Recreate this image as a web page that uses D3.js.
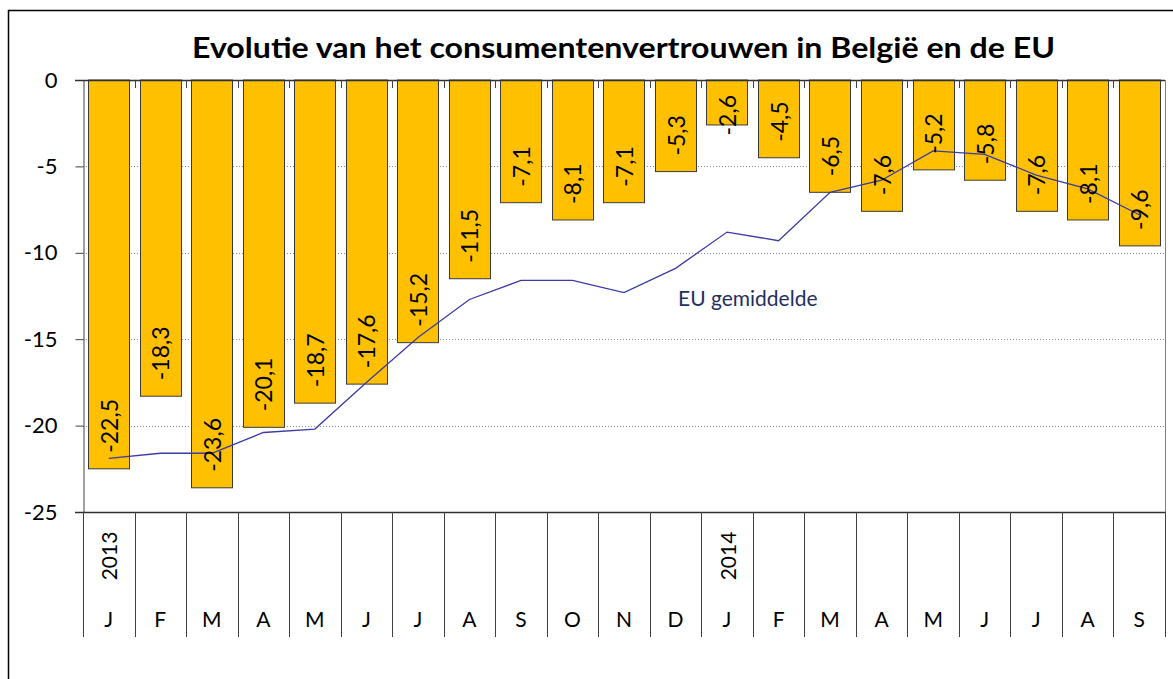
<!DOCTYPE html>
<html>
<head>
<meta charset="utf-8">
<script src="https://cdn.jsdelivr.net/npm/d3@7"></script>
<style>
  body { margin: 0; background: #fff; }
  text { font-family: Lato, "Open Sans", sans-serif; fill: #000; }
  .bar { fill: #FFC000; stroke: #3a3a3a; stroke-width: 1; }
  .grid line { stroke: #8c8c8c; stroke-dasharray: 1,2; }
  .eu { fill: none; stroke: #3b3ba6; stroke-width: 1.3; }
</style>
</head>
<body>
<div id="chart"></div>
<script>
// consumentenvertrouwen Belgie (bars) vs EU gemiddelde (line), jan 2013 - sep 2014
var months = ["J","F","M","A","M","J","J","A","S","O","N","D","J","F","M","A","M","J","J","A","S"];
var years = [{i: 0, label: "2013"}, {i: 12, label: "2014"}];
var belgie = [-22.5, -18.3, -23.6, -20.1, -18.7, -17.6, -15.2, -11.5, -7.1, -8.1, -7.1, -5.3,
              -2.6, -4.5, -6.5, -7.6, -5.2, -5.8, -7.6, -8.1, -9.6];
var eu = [-21.9, -21.6, -21.6, -20.4, -20.2, -17.5, -14.9, -12.7, -11.6, -11.6, -12.3, -10.9,
          -8.8, -9.3, -6.5, -5.8, -4.1, -4.3, -5.5, -6.3, -7.8];
var yTicks = [0, -5, -10, -15, -20, -25];

var W = 1173, H = 679;
var plotL = 83, plotR = 1165, plotT = 80, plotB = 512;

// excel style: plain hyphen, decimal comma
function fmt1(d){ return d.toFixed(1).replace(".", ","); }
function fmt0(d){ return String(d); }

var svg = d3.select("#chart").append("svg")
  .attr("width", W).attr("height", H);

// chart border (runs off the right/bottom edge like the original)
svg.append("rect")
  .attr("x", 8.5).attr("y", 10.5).attr("width", 1250).attr("height", 800)
  .attr("fill", "none").attr("stroke", "#000").attr("stroke-width", 1.5);

svg.append("text")
  .attr("x", 192).attr("y", 58)
  .attr("textLength", 863).attr("lengthAdjust", "spacingAndGlyphs")
  .style("font-weight", "bold").style("font-size", "29px")
  .text("Evolutie van het consumentenvertrouwen in België en de EU");

var idx = d3.range(months.length);
var x = d3.scaleBand().domain(idx).range([plotL, plotR]).paddingInner(0.2).paddingOuter(0.1);
var y = d3.scaleLinear().domain([0, -25]).range([plotT, plotB]);
var step = x.step();

// gridlines
svg.append("g").attr("class", "grid").selectAll("line")
  .data(yTicks.filter(function(d){ return d != 0 && d != -25; }))
  .enter().append("line")
  .attr("x1", plotL).attr("x2", plotR)
  .attr("y1", function(d){ return Math.round(y(d)) + 0.5; })
  .attr("y2", function(d){ return Math.round(y(d)) + 0.5; });

// y axis
var yAxis = svg.append("g").attr("transform", "translate(" + (plotL + 0.5) + ",0)")
  .call(d3.axisLeft(y).tickValues(yTicks).tickSize(8).tickPadding(18).tickFormat(fmt0));
yAxis.select(".domain").attr("stroke", "#404040");
yAxis.selectAll(".tick line").attr("stroke", "#404040");
yAxis.selectAll("text").style("font-size", "22px").style("font-family", "Lato, sans-serif").attr("fill", "#000");

// bars
svg.append("g").selectAll("rect")
  .data(belgie)
  .enter().append("rect")
  .attr("class", "bar")
  .attr("x", function(d, i){ return Math.round(x(i)) + 0.5; })
  .attr("y", y(0))
  .attr("width", Math.round(x.bandwidth()))
  .attr("height", function(d){ return y(d) - y(0); });

// EU line
var line = d3.line()
  .x(function(d, i){ return x(i) + x.bandwidth() / 2; })
  .y(function(d){ return y(d); });
svg.append("path").attr("class", "eu").attr("d", line(eu));

svg.append("text")
  .attr("x", 678).attr("y", 306)
  .style("font-size", "21px").style("fill", "#1f3060")
  .text("EU gemiddelde");

// value labels, rotated, inside end of the bars
var labels = svg.append("g").selectAll("text")
  .data(belgie)
  .enter().append("text")
  .style("font-size", "23px")
  .attr("dominant-baseline", "central")
  .text(fmt1);
labels.each(function(d, i){
  var len = this.getComputedTextLength();
  var cx = x(i) + x.bandwidth() / 2;
  var yy = Math.max(y(d) - 16, plotT + 15 + len);
  d3.select(this).attr("transform", "translate(" + cx + "," + yy + ") rotate(-90)");
});

// axis line at 0 and at bottom
svg.append("line").attr("x1", plotL - 8).attr("x2", plotR)
  .attr("y1", plotT + 0.5).attr("y2", plotT + 0.5).attr("stroke", "#303030").attr("stroke-width", 1.5);
svg.append("line").attr("x1", plotL - 8).attr("x2", plotR)
  .attr("y1", plotB + 0.5).attr("y2", plotB + 0.5).attr("stroke", "#303030").attr("stroke-width", 1.5);
svg.append("line").attr("x1", plotR + 0.5).attr("x2", plotR + 0.5)
  .attr("y1", plotT).attr("y2", plotB).attr("stroke", "#808080");

// small category ticks under the 0 line
var bounds = d3.range(months.length + 1).map(function(i){ return plotL + i * step; });
svg.append("g").selectAll("line")
  .data(bounds.slice(1, -1))
  .enter().append("line")
  .attr("x1", function(d){ return Math.round(d) + 0.5; })
  .attr("x2", function(d){ return Math.round(d) + 0.5; })
  .attr("y1", plotT).attr("y2", plotT + 8)
  .attr("stroke", "#404040");

// category separators below the plot
svg.append("g").selectAll("line")
  .data(bounds)
  .enter().append("line")
  .attr("x1", function(d){ return Math.round(d) + 0.5; })
  .attr("x2", function(d){ return Math.round(d) + 0.5; })
  .attr("y1", plotB).attr("y2", 637)
  .attr("stroke", "#404040");

// month labels
svg.append("g").selectAll("text")
  .data(months)
  .enter().append("text")
  .attr("x", function(d, i){ return x(i) + x.bandwidth() / 2; })
  .attr("y", 627)
  .attr("text-anchor", "middle")
  .style("font-size", "21px")
  .text(function(d){ return d; });

// year labels
svg.append("g").selectAll("text")
  .data(years)
  .enter().append("text")
  .attr("transform", function(d){
    return "translate(" + (x(d.i) + x.bandwidth() / 2) + ",556) rotate(-90)";
  })
  .attr("text-anchor", "middle")
  .attr("dominant-baseline", "central")
  .style("font-size", "21px")
  .text(function(d){ return d.label; });
</script>
</body>
</html>
